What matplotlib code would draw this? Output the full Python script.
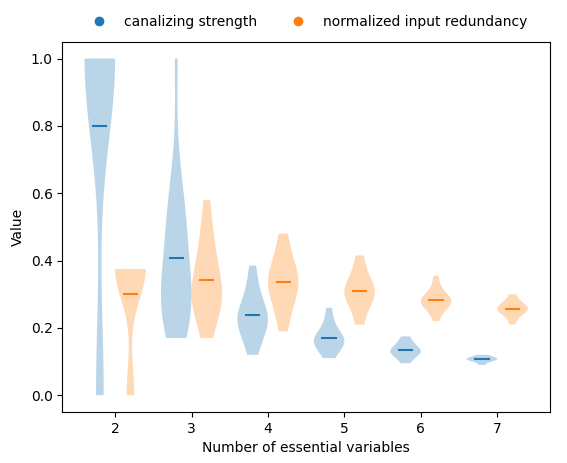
import matplotlib
matplotlib.use("Agg")
import matplotlib.pyplot as plt
from matplotlib.lines import Line2D

ks = [2, 3, 4, 5, 6, 7]
canal = [
    [1.0]*12 + [0.0]*3,
    [0.17,0.2,0.22,0.25,0.25,0.27,0.28,0.3,0.3,0.32,0.35,0.4,0.45,0.5,0.5,0.52,0.55,0.6,0.7,1.0],
    [0.12,0.15,0.18,0.2,0.21,0.22,0.23,0.24,0.25,0.27,0.3,0.33,0.385],
    [0.11,0.13,0.14,0.15,0.16,0.16,0.17,0.17,0.18,0.2,0.22,0.26],
    [0.095,0.11,0.12,0.125,0.13,0.13,0.135,0.14,0.15,0.16,0.175],
    [0.09,0.1,0.103,0.105,0.107,0.108,0.11,0.112,0.115,0.12],
]
redund = [
    [0.375]*12 + [0.0]*3,
    [0.17,0.22,0.25,0.27,0.28,0.3,0.31,0.33,0.35,0.38,0.42,0.45,0.5,0.58],
    [0.19,0.24,0.27,0.3,0.32,0.33,0.34,0.35,0.37,0.4,0.43,0.48],
    [0.21,0.24,0.27,0.29,0.3,0.3,0.31,0.32,0.33,0.35,0.38,0.415],
    [0.22,0.25,0.26,0.27,0.275,0.28,0.28,0.285,0.29,0.3,0.32,0.355],
    [0.21,0.235,0.245,0.25,0.255,0.255,0.26,0.265,0.27,0.28,0.3],
]

fig, ax = plt.subplots(figsize=(5.67, 4.63), dpi=100)
for data, off, c in [(canal, -0.2, "C0"), (redund, 0.2, "C1")]:
    vp = ax.violinplot(data, positions=[k + off for k in ks], widths=0.4,
                       showmeans=True, showextrema=False)
    for b in vp["bodies"]:
        b.set_facecolor(c); b.set_edgecolor("none"); b.set_alpha(0.3)
    vp["cmeans"].set_color(c)
ax.set_xticks(ks)
ax.set_xlabel("Number of essential variables")
ax.set_ylabel("Value")
handles = [Line2D([], [], marker="o", ls="", color="C0", label="canalizing strength"),
           Line2D([], [], marker="o", ls="", color="C1", label="normalized input redundancy")]
ax.legend(handles=handles, loc="lower center", bbox_to_anchor=(0.5, 1.0), ncol=2, frameon=False)
fig.subplots_adjust(left=0.11, right=0.97, top=0.91, bottom=0.11)
fig.savefig("out.png")
